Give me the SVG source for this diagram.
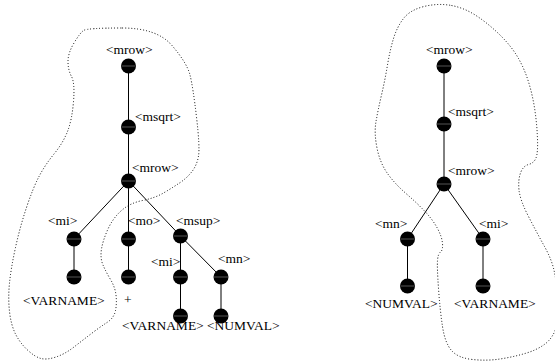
<svg xmlns="http://www.w3.org/2000/svg" width="555" height="364" viewBox="0 0 555 364">
<style>
.blob{fill:none;stroke:#000;stroke-width:1;stroke-dasharray:1 2}
.e{stroke:#000;stroke-width:1;fill:none}
.n{fill:#000}
.h{stroke:#555;stroke-width:1}
text{font-family:"Liberation Serif","Times New Roman",serif;font-size:13.5px;fill:#000}
</style>
<defs>
<g id="dot"><circle class="n" cx="0" cy="0" r="7.5"/><line class="h" x1="-7" y1="0" x2="7" y2="0"/></g>
</defs>
<g id="regions">
<path class="blob" d="M122,28 Q157,28 172,45.5 Q187,63 190,75 Q193,87 196.5,117 Q200,147 198.5,156 Q197,165 192,171.5 Q187,178 179.5,183 Q172,188 163.5,193 Q155,198 142.5,200.5 Q130,203 121.5,210.5 Q113,218 108,229 Q103,240 101.5,249 Q100,258 103,265 Q106,272 110.5,279.5 Q115,287 116,295 Q117,303 115.5,310.5 Q114,318 107,322.5 Q100,327 91.5,333.5 Q83,340 74,347 Q65,354 56,357 Q47,360 41,358.5 Q35,357 27.5,350 Q20,343 15.5,334 Q11,325 9.5,311.5 Q8,298 9.5,283 Q11,268 15.5,247.5 Q20,227 26.5,207.5 Q33,188 39,176.5 Q45,165 54,154 Q63,143 67.5,131.5 Q72,120 73.5,101.5 Q75,83 71.5,76.5 Q68,70 68,61.5 Q68,53 74,43 Q80,33 83.5,30.5 Q87,28 122,28 Z"/>
<path class="blob" d="M451.5,5.5 Q465,8 477.5,16.5 Q490,25 501,36 Q512,47 518.5,58.5 Q525,70 529,83.5 Q533,97 535,111 Q537,125 537.5,139 Q538,153 536,158 Q534,163 528.5,164.5 Q523,166 520.5,173 Q518,180 519,190 Q520,200 528.5,216.5 Q537,233 544.5,246.5 Q552,260 554.5,272.5 Q557,285 558.5,300 Q560,315 556.5,326.5 Q553,338 545,344 Q537,350 525,353.5 Q513,357 500,359 Q487,361 472.5,359.5 Q458,358 451.5,350.5 Q445,343 442.5,326.5 Q440,310 438.5,288.5 Q437,267 437.5,260.5 Q438,254 440.5,252 Q443,250 442.5,243.5 Q442,237 437.5,228.5 Q433,220 425,211.5 Q417,203 406,193.5 Q395,184 387.5,173.5 Q380,163 377,148 Q374,133 376,121.5 Q378,110 381.5,95 Q385,80 387.5,65 Q390,50 393.5,38.5 Q397,27 403.5,18.5 Q410,10 424,6.5 Q438,3 451.5,5.5 Z"/>
</g>
<g id="connectors">
<line class="e" x1="128.5" y1="66" x2="128.5" y2="127"/>
<line class="e" x1="128.5" y1="127" x2="128.5" y2="181"/>
<line class="e" x1="128.5" y1="181" x2="74" y2="239"/>
<line class="e" x1="128.5" y1="181" x2="128.5" y2="239"/>
<line class="e" x1="128.5" y1="181" x2="180.5" y2="236"/>
<line class="e" x1="74" y1="239" x2="74" y2="277"/>
<line class="e" x1="128.5" y1="239" x2="128.5" y2="277"/>
<line class="e" x1="180.5" y1="236" x2="180.5" y2="277"/>
<line class="e" x1="180.5" y1="236" x2="221" y2="277"/>
<line class="e" x1="180.5" y1="277" x2="180.5" y2="316"/>
<line class="e" x1="221" y1="277" x2="221" y2="316"/>
<line class="e" x1="444" y1="66" x2="444" y2="124"/>
<line class="e" x1="444" y1="124" x2="444" y2="184"/>
<line class="e" x1="444" y1="184" x2="407.5" y2="239"/>
<line class="e" x1="444" y1="184" x2="483" y2="239"/>
<line class="e" x1="407.5" y1="239" x2="407.5" y2="286"/>
<line class="e" x1="483" y1="239" x2="483" y2="286"/>
</g>
<g id="n-mrow1"><use href="#dot" x="128.5" y="66"/><text x="106" y="54">&lt;mrow&gt;</text></g>
<g id="n-msqrt1"><use href="#dot" x="128.5" y="127"/><text x="135" y="121">&lt;msqrt&gt;</text></g>
<g id="n-mrow2"><use href="#dot" x="128.5" y="181"/><text x="132" y="172">&lt;mrow&gt;</text></g>
<g id="n-mi1"><use href="#dot" x="74" y="239"/><text x="48" y="225">&lt;mi&gt;</text></g>
<g id="n-mi1leaf"><use href="#dot" x="74" y="277"/><text x="23" y="305">&lt;VARNAME&gt;</text></g>
<g id="n-mo"><use href="#dot" x="128.5" y="239"/><text x="128" y="225">&lt;mo&gt;</text></g>
<g id="n-moleaf"><use href="#dot" x="128.5" y="277"/><text x="124" y="304">+</text></g>
<g id="n-msup"><use href="#dot" x="180.5" y="236"/><text x="176" y="225">&lt;msup&gt;</text></g>
<g id="n-mi2"><use href="#dot" x="180.5" y="277"/><text x="151" y="266">&lt;mi&gt;</text></g>
<g id="n-mi2leaf"><use href="#dot" x="180.5" y="316"/><text x="122" y="330">&lt;VARNAME&gt;</text></g>
<g id="n-mn1"><use href="#dot" x="221" y="277"/><text x="218" y="263">&lt;mn&gt;</text></g>
<g id="n-mn1leaf"><use href="#dot" x="221" y="316"/><text x="207" y="330">&lt;NUMVAL&gt;</text></g>
<g id="n-mrow3"><use href="#dot" x="444" y="66"/><text x="426" y="54">&lt;mrow&gt;</text></g>
<g id="n-msqrt2"><use href="#dot" x="444" y="124"/><text x="448" y="116">&lt;msqrt&gt;</text></g>
<g id="n-mrow4"><use href="#dot" x="444" y="184"/><text x="448" y="175">&lt;mrow&gt;</text></g>
<g id="n-mn2"><use href="#dot" x="407.5" y="239"/><text x="375" y="228">&lt;mn&gt;</text></g>
<g id="n-mn2leaf"><use href="#dot" x="407.5" y="286"/><text x="365" y="308">&lt;NUMVAL&gt;</text></g>
<g id="n-mi3"><use href="#dot" x="483" y="239"/><text x="479" y="228">&lt;mi&gt;</text></g>
<g id="n-mi3leaf"><use href="#dot" x="483" y="286"/><text x="454" y="308">&lt;VARNAME&gt;</text></g>
</svg>
